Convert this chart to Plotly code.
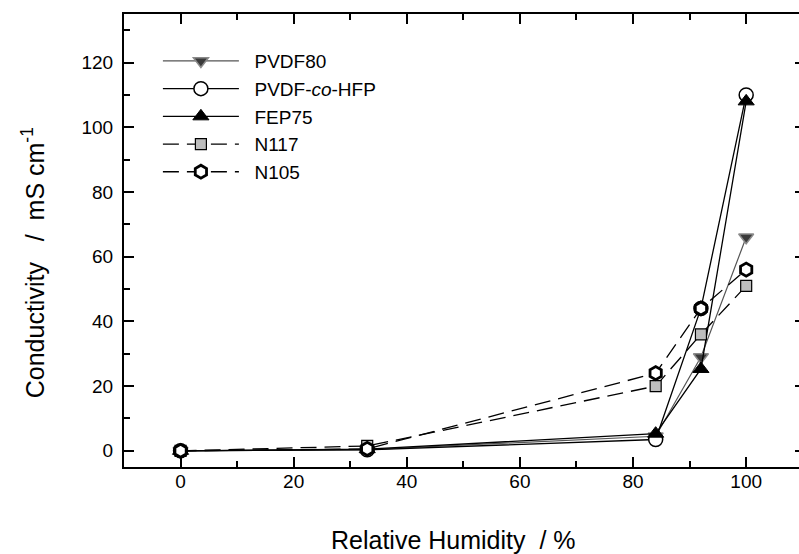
import plotly.graph_objects as go

rh = [0, 33, 84, 92, 100]
pvdf80 = [0.0, 0.4, 4.5, 29.0, 66.0]
pvdf_co_hfp = [0.0, 0.3, 3.5, 44.0, 110.0]
fep75 = [0.0, 0.5, 5.3, 25.3, 108.0]
n117 = [0.0, 1.5, 20.0, 36.0, 51.0]
n105 = [0.0, 0.6, 24.0, 44.0, 56.0]

x_ticks = [0, 20, 40, 60, 80, 100]
y_ticks = [0, 20, 40, 60, 80, 100, 120]

NB = "\u00a0"
fig = go.Figure()

dash = "16px,8px"

fig.add_trace(go.Scatter(
    x=rh, y=pvdf80, name=NB * 2 + "PVDF80", mode="lines+markers",
    line=dict(color="#555555", width=1.2),
    marker=dict(symbol="triangle-down", size=13, color="#3a3a3a",
                line=dict(color="#8a8a8a", width=1.5))))
fig.add_trace(go.Scatter(
    x=rh, y=pvdf_co_hfp, name=NB * 2 + "PVDF-<i>co</i>-HFP", mode="lines+markers",
    line=dict(color="black", width=1.3),
    marker=dict(symbol="circle", size=14, color="white",
                line=dict(color="black", width=1.5))))
fig.add_trace(go.Scatter(
    x=rh, y=fep75, name=NB * 2 + "FEP75", mode="lines+markers",
    line=dict(color="black", width=1.3),
    marker=dict(symbol="triangle-up", size=14, color="black",
                line=dict(color="black", width=1))))
fig.add_trace(go.Scatter(
    x=rh, y=n117, name=NB * 2 + "N117", mode="lines+markers",
    line=dict(color="black", width=1.3, dash=dash),
    marker=dict(symbol="square", size=11, color="#bdbdbd",
                line=dict(color="black", width=1.2))))
fig.add_trace(go.Scatter(
    x=rh, y=n105, name=NB * 2 + "N105", mode="lines+markers",
    line=dict(color="black", width=1.3, dash=dash),
    marker=dict(symbol="hexagon", size=13, color="white",
                line=dict(color="black", width=2.8))))

axis_common = dict(
    showline=True, linecolor="black", linewidth=2, mirror="ticks",
    ticks="inside", ticklen=10, tickwidth=1.5, tickcolor="black",
    showgrid=False, zeroline=False,
    tickfont=dict(family="Liberation Sans, Arial, sans-serif", size=19, color="black"),
)

FIG_W = 807
fig.update_layout(
    width=FIG_W, height=554,
    margin=dict(l=124, r=0, t=14, b=87),
    paper_bgcolor="white", plot_bgcolor="white",
    font=dict(family="Liberation Sans, Arial, sans-serif", color="black"),
    xaxis=dict(range=[-10, 110.4], tickvals=x_ticks,
               ticklabelstandoff=-4,
               minor=dict(dtick=10, ticks="inside", ticklen=6, tickwidth=1.5, tickcolor="black"),
               **axis_common),
    yaxis=dict(range=[-5, 135], tickvals=y_ticks,
               ticklabelstandoff=5,
               minor=dict(dtick=10, ticks="inside", ticklen=6, tickwidth=1.5, tickcolor="black"),
               **axis_common),
    legend=dict(x=(158 - 124) / (FIG_W - 124), y=0.938, xanchor="left", yanchor="top",
                font=dict(size=19), itemwidth=76, bgcolor="rgba(0,0,0,0)",
                tracegroupgap=0),
    showlegend=True,
    annotations=[
        dict(text="Relative Humidity" + NB * 2 + "/" + NB + "%",
             xref="paper", yref="paper", x=(454 - 124) / (FIG_W - 124), y=(467 - 540) / 453,
             xanchor="center", yanchor="middle", showarrow=False,
             font=dict(size=25)),
        dict(text="Conductivity" + NB * 3 + "/" + NB * 2 + "mS" + NB + "cm<sup>-1</sup>",
             xref="paper", yref="paper", x=(33 - 124) / (FIG_W - 124), y=(467 - 263) / 453,
             xanchor="center", yanchor="middle", showarrow=False, textangle=-90,
             font=dict(size=25)),
    ],
)

post = ("document.documentElement.style.overflow='hidden';"
        "document.body.style.overflow='hidden';"
        "document.body.style.margin='0';"
        "document.body.style.padding='0';")

fig.write_html("out.html", post_script=post, config={"displayModeBar": False})
